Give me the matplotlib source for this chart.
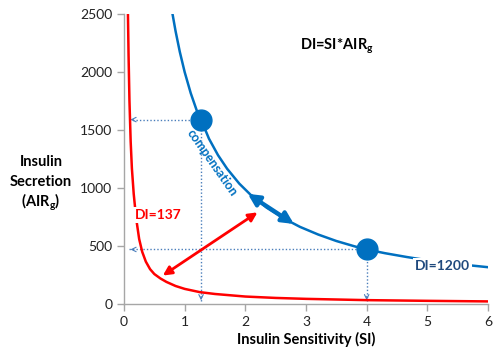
import matplotlib
matplotlib.use("Agg")
import matplotlib.pyplot as plt

# ---- data ----
blue_si  = [0.80, 0.85, 0.92, 1.00, 1.10, 1.20, 1.27, 1.40, 1.55, 1.70, 1.90, 2.10, 2.35, 2.60,
            2.90, 3.20, 3.50, 3.80, 4.00, 4.30, 4.66, 5.00, 5.50, 6.00]
blue_air = [2500, 2353, 2174, 2000, 1818, 1667, 1590, 1426, 1283, 1166, 1038, 935, 831, 747,
            665, 599, 543, 497, 470, 438, 405, 377, 344, 317]

red_si  = [0.065, 0.075, 0.09, 0.11, 0.13, 0.16, 0.20, 0.25, 0.30, 0.36, 0.43, 0.50, 0.60, 0.70,
           0.85, 1.00, 1.25, 1.50, 2.00, 2.50, 3.00, 4.00, 5.00, 6.00]
red_air = [2500, 2150, 1750, 1400, 1170, 950, 740, 560, 450, 365, 300, 258, 220, 190,
           155, 130, 102, 86, 64, 52, 44, 33, 27, 22]

dot_si  = [1.27, 4.00]
dot_air = [1590, 470]

x_ticks = [0, 1, 2, 3, 4, 5, 6]
y_ticks = [0, 500, 1000, 1500, 2000, 2500]

BLUE = "#0070C0"
RED = "#FF0000"
GUIDE = "#4A7EBB"
NAVY = "#1F497D"

plt.rcParams['font.family'] = ['Lato', 'DejaVu Sans']
plt.rcParams['mathtext.fontset'] = 'custom'
plt.rcParams['mathtext.rm'] = 'Lato'
plt.rcParams['mathtext.bf'] = 'Lato:bold'

fig = plt.figure(figsize=(5.0, 3.61), dpi=100)
ax = fig.add_axes([0.248, 0.158, 0.728, 0.803])

ax.set_xlim(0, 6)
ax.set_ylim(0, 2500)

# guide dotted lines
for sx, sy in zip(dot_si, dot_air):
    ax.plot([0.08, sx], [sy, sy], ls=(0, (1, 1.5)), color=GUIDE, lw=1, zorder=2)
    ax.plot([sx, sx], [25, sy], ls=(0, (1, 1.5)), color=GUIDE, lw=1, zorder=2)
    ax.annotate('', xy=(0.06, sy), xytext=(0.2, sy),
                arrowprops=dict(arrowstyle='->', color=GUIDE, lw=0.8, mutation_scale=8), zorder=2)
    ax.annotate('', xy=(sx, 8), xytext=(sx, 90),
                arrowprops=dict(arrowstyle='->', color=GUIDE, lw=0.8, mutation_scale=8), zorder=2)

ax.plot(red_si, red_air, color=RED, lw=1.8, zorder=3, clip_on=True)
ax.plot(blue_si, blue_air, color=BLUE, lw=1.8, zorder=3, clip_on=True)
ax.plot(dot_si, dot_air, 'o', color=BLUE, ms=15, zorder=5)

# double arrows
ax.annotate('', xy=(2.04, 950), xytext=(2.80, 690),
            arrowprops=dict(arrowstyle='<|-|>', color=BLUE, lw=3, mutation_scale=17,
                            shrinkA=0, shrinkB=0), zorder=4)
ax.annotate('', xy=(2.20, 790), xytext=(0.64, 245),
            arrowprops=dict(arrowstyle='<|-|>', color=RED, lw=2, mutation_scale=13,
                            shrinkA=0, shrinkB=0), zorder=4)

# labels
ax.text(0.18, 765, 'DI=137', color=RED, fontsize=10, fontweight='bold', va='center', ha='left',
        bbox=dict(facecolor='white', edgecolor='none', pad=1.5), zorder=6)
ax.text(4.8, 325, 'DI=1200', color=NAVY, fontsize=10, fontweight='bold', va='center', ha='left',
        bbox=dict(facecolor='white', edgecolor='none', pad=1.5), zorder=6)
ax.text(1.45, 1215, 'compensation', color=BLUE, fontsize=9, fontweight='bold', rotation=-55,
        ha='center', va='center', rotation_mode='anchor', zorder=6)
ax.text(2.9, 2220, r'DI=SI*AIR$_{\mathbf{g}}$', color='black', fontsize=10.5, fontweight='bold',
        ha='left', va='center')

ax.set_xticks(x_ticks)
ax.set_yticks(y_ticks)
ax.tick_params(axis='both', colors='#A6A6A6', labelcolor='#222222', labelsize=10, length=5, width=1)
for s in ['top', 'right']:
    ax.spines[s].set_visible(False)
for s in ['left', 'bottom']:
    ax.spines[s].set_color('#A6A6A6')
    ax.spines[s].set_linewidth(1)

ax.set_xlabel('Insulin Sensitivity (SI)', fontsize=10.5, fontweight='bold', labelpad=3)
ylab_lines = ['Insulin', 'Secretion', r'(AIR$_{\mathbf{g}}$)']
for i, line in enumerate(ylab_lines):
    fig.text(0.082, 1 - (162 + 20 * i) / 361, line, fontsize=10.5, fontweight='bold',
             ha='center', va='center')

fig.savefig('out.png', dpi=100)
